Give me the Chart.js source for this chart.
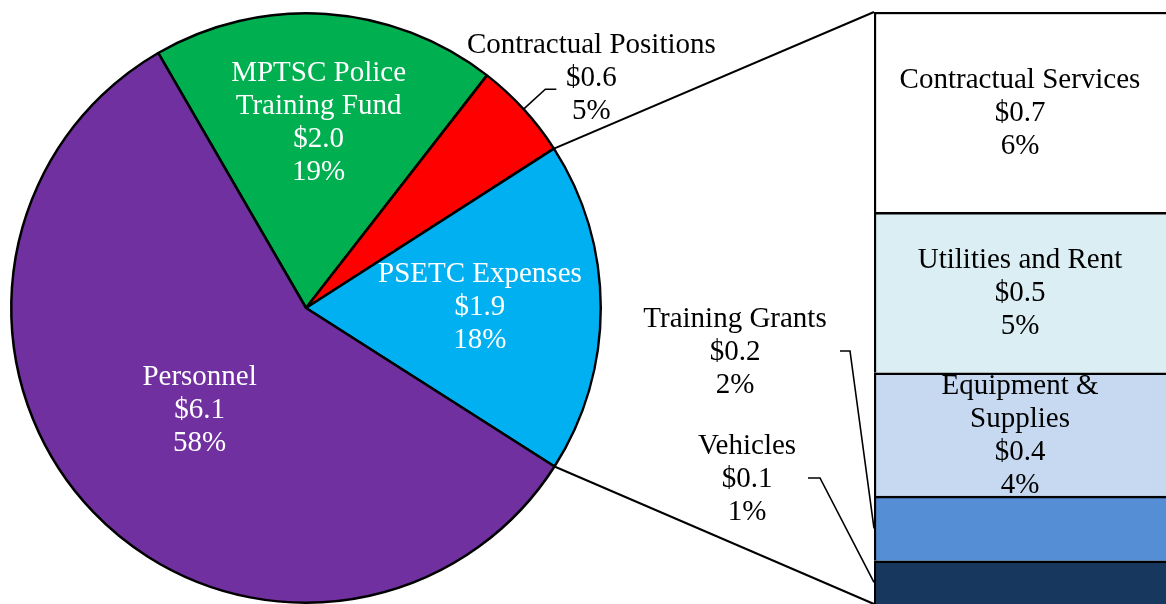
<!DOCTYPE html>
<html>
<head>
<meta charset="utf-8">
<script src="https://cdn.jsdelivr.net/npm/chart.js@4.4.1/dist/chart.umd.min.js"></script>
<style>
  html, body { margin: 0; padding: 0; background: #fff; overflow: hidden; }
  #quadro { position: relative; width: 1166px; height: 604px; overflow: hidden; }
  canvas { position: absolute; left: 0; top: 0; }
</style>
</head>
<body>
<div id="quadro">
  <canvas id="barra" width="1180" height="620"></canvas>
  <canvas id="pizza" width="1180" height="620"></canvas>
</div>
<script>
// Fatias da pizza (milhões de dólares)
const pieLabels = [['MPTSC Police', 'Training Fund'], ['Contractual Positions'], ['PSETC Expenses'], ['Personnel']];
const pieValues = [2.0, 0.57, 1.92, 6.1];
const pieColors = ['#00B050', '#FF0000', '#00B0F0', '#7030A0'];

// Detalhe de PSETC Expenses, de baixo para cima
const barLabels = [['Vehicles'], ['Training Grants'], ['Equipment &', 'Supplies'], ['Utilities and Rent'], ['Contractual Services']];
const barValues = [0.14, 0.21, 0.40, 0.52, 0.65];
const barColors = ['#17375E', '#558ED5', '#C6D9F1', '#DAEEF3', '#FFFFFF'];

const FONTE = "29px 'Times New Roman', 'Liberation Serif', serif";
const LINHA = 33;
const LARGURA_VISIVEL = 1166;

const total = pieValues.reduce((a, b) => a + b, 0);
const totalBarra = barValues.reduce((a, b) => a + b, 0);

function dinheiro(v) {
  return '$' + (Math.round(v * 10) / 10).toFixed(1);
}

function pct(v) {
  return Math.round(v / total * 100) + '%';
}

// Escreve um bloco de linhas centrado em (x, y)
function escreve(ctx, linhas, x, y, cor) {
  ctx.save();
  ctx.fillStyle = cor;
  ctx.font = FONTE;
  ctx.textAlign = 'center';
  ctx.textBaseline = 'middle';
  const y0 = y - (linhas.length - 1) * LINHA / 2;
  linhas.forEach((l, i) => ctx.fillText(l, x, y0 + i * LINHA));
  ctx.restore();
}

function linha(ctx, pontos, largura) {
  ctx.save();
  ctx.strokeStyle = '#000';
  ctx.lineWidth = largura;
  ctx.beginPath();
  pontos.forEach((p, i) => i ? ctx.lineTo(p[0], p[1]) : ctx.moveTo(p[0], p[1]));
  ctx.stroke();
  ctx.restore();
}

// Rótulos da barra
const rotulosBarra = {
  id: 'rotulosBarra',
  afterDatasetsDraw(chart) {
    const ctx = chart.ctx;
    barValues.forEach((v, i) => {
      const bar = chart.getDatasetMeta(i).data[0];
      const esq = bar.x - bar.width / 2;
      const meio = (bar.y + bar.base) / 2;
      const texto = barLabels[i].concat([dinheiro(v), pct(v)]);
      if (i >= 2) {
        escreve(ctx, texto, (esq + LARGURA_VISIVEL) / 2, meio + 1, '#000');
      } else if (i === 1) {
        escreve(ctx, texto, esq - 139, 352, '#000');
        linha(ctx, [[esq - 34, 351], [esq - 24, 351], [esq, meio]], 1.6);
      } else {
        escreve(ctx, texto, esq - 127, 479, '#000');
        linha(ctx, [[esq - 66, 478], [esq - 54, 478], [esq, meio]], 1.6);
      }
    });
  }
};

const barChart = new Chart(document.getElementById('barra'), {
  type: 'bar',
  data: {
    labels: ['PSETC Expenses'],
    datasets: barValues.map((v, i) => ({
      label: barLabels[i].join(' '),
      data: [v],
      backgroundColor: barColors[i],
      borderColor: '#000',
      borderWidth: 2.5,
      barPercentage: 1,
      categoryPercentage: 1
    }))
  },
  options: {
    responsive: false,
    animation: false,
    layout: { padding: { left: 874, top: 12, right: 4, bottom: 16 } },
    scales: {
      x: { display: false, stacked: true },
      y: { display: false, stacked: true, min: 0, max: totalBarra }
    },
    plugins: { legend: { display: false }, tooltip: { enabled: false } }
  },
  plugins: [rotulosBarra]
});

// Rótulos da pizza e linhas de ligação com a barra
const rotulosPizza = {
  id: 'rotulosPizza',
  afterDraw(chart) {
    const ctx = chart.ctx;
    const arcos = chart.getDatasetMeta(0).data;
    const dentro = { 0: 0.63, 2: 0.59, 3: 0.50 };

    arcos.forEach((arco, i) => {
      const { x, y, startAngle, endAngle, outerRadius } = arco;
      const meio = (startAngle + endAngle) / 2;
      const texto = pieLabels[i].concat([dinheiro(pieValues[i]), pct(pieValues[i])]);
      if (dentro[i] !== undefined) {
        const d = outerRadius * dentro[i];
        escreve(ctx, texto, x + Math.cos(meio) * d, y + Math.sin(meio) * d, '#fff');
      } else {
        const p1 = [x + Math.cos(meio) * outerRadius, y + Math.sin(meio) * outerRadius];
        const p2 = [x + Math.cos(meio) * outerRadius * 1.1, y + Math.sin(meio) * outerRadius * 1.1];
        const p3 = [p2[0] + 11, p2[1]];
        linha(ctx, [p1, p2, p3], 1.6);
        escreve(ctx, texto, p3[0] + 35, p3[1] - 11, '#000');
      }
    });

    // ligação da fatia PSETC com a barra
    const fatia = arcos[2];
    const topo = barChart.getDatasetMeta(barValues.length - 1).data[0];
    const fundo = barChart.getDatasetMeta(0).data[0];
    const pA = [fatia.x + Math.cos(fatia.startAngle) * fatia.outerRadius, fatia.y + Math.sin(fatia.startAngle) * fatia.outerRadius];
    const pB = [fatia.x + Math.cos(fatia.endAngle) * fatia.outerRadius, fatia.y + Math.sin(fatia.endAngle) * fatia.outerRadius];
    linha(ctx, [pA, [topo.x - topo.width / 2, topo.y]], 2);
    linha(ctx, [pB, [fundo.x - fundo.width / 2, fundo.base]], 2);
  }
};

new Chart(document.getElementById('pizza'), {
  type: 'pie',
  data: {
    labels: pieLabels.map(l => l.join(' ')),
    datasets: [{
      data: pieValues,
      backgroundColor: pieColors,
      borderColor: '#000',
      borderWidth: 2.5
    }]
  },
  options: {
    responsive: false,
    animation: false,
    rotation: -30.1,
    layout: { padding: { left: 10, top: 12, right: 578, bottom: 16 } },
    plugins: { legend: { display: false }, tooltip: { enabled: false } }
  },
  plugins: [rotulosPizza]
});
</script>
</body>
</html>
